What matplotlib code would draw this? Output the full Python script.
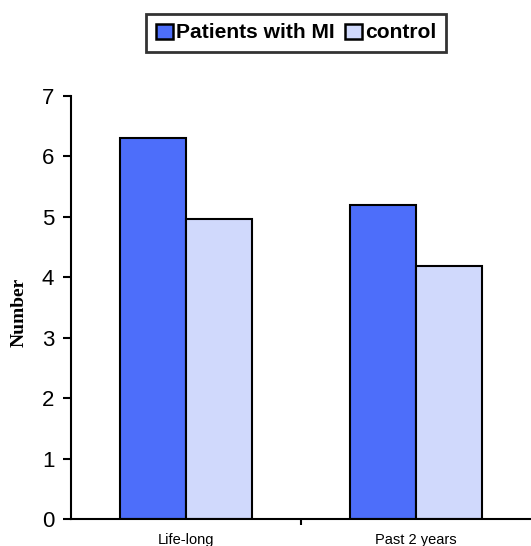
import matplotlib
matplotlib.use("Agg")
import matplotlib.pyplot as plt
from matplotlib.patches import Patch
import numpy as np

categories = ["Life-long", "Past 2 years"]
series_names = ["Patients with MI", "control"]
mi_values = [6.3, 5.2]
control_values = [4.97, 4.18]
y_ticks = [0, 1, 2, 3, 4, 5, 6, 7]

mi_color = "#4d6efa"
control_color = "#d0d9fc"

fig = plt.figure(figsize=(5.31, 5.46), dpi=100)
ax = fig.add_axes([71 / 531, 27 / 546, 460 / 531, 423 / 546])

x = np.arange(len(categories))
w = 0.287
ax.bar(x - w / 2, mi_values, w, color=mi_color, edgecolor="black", linewidth=1.5)
ax.bar(x + w / 2, control_values, w, color=control_color, edgecolor="black", linewidth=1.5)

ax.set_xlim(-0.5, 1.5)
ax.set_ylim(0, 7)
ax.set_yticks(y_ticks)
ax.set_yticklabels([str(v) for v in y_ticks], fontsize=16, family="Liberation Sans")
ax.tick_params(axis="y", direction="out", length=6, width=1.5, pad=6)

ax.set_xticks(x)
ax.set_xticklabels(categories, fontsize=10.5, family="Liberation Sans")
ax.tick_params(axis="x", which="major", length=0, pad=10)
ax.set_xticks([0.5], minor=True)
ax.tick_params(axis="x", which="minor", direction="out", length=4, width=1.5)

for s in ["top", "right"]:
    ax.spines[s].set_visible(False)
for s in ["left", "bottom"]:
    ax.spines[s].set_linewidth(1.5)

fig.text(19 / 531, 1 - 312 / 546, "Number", rotation=90, ha="center", va="center",
         fontsize=14, fontweight="bold", family="Liberation Serif")

handles = [Patch(facecolor=mi_color, edgecolor="black", linewidth=1.8),
           Patch(facecolor=control_color, edgecolor="black", linewidth=1.8)]
leg = fig.legend(handles, series_names, loc="center", bbox_to_anchor=(296 / 531, 1 - 33 / 546),
                 ncol=2, frameon=True, fancybox=False, handlelength=0.8, handleheight=0.75,
                 handletextpad=0.15, columnspacing=0.5, borderpad=0.45, borderaxespad=0,
                 prop={"family": "Liberation Sans", "weight": "bold", "size": 15.1})
leg.get_frame().set_edgecolor("black")
leg.get_frame().set_linewidth(2)

fig.savefig("out.png", dpi=100)
